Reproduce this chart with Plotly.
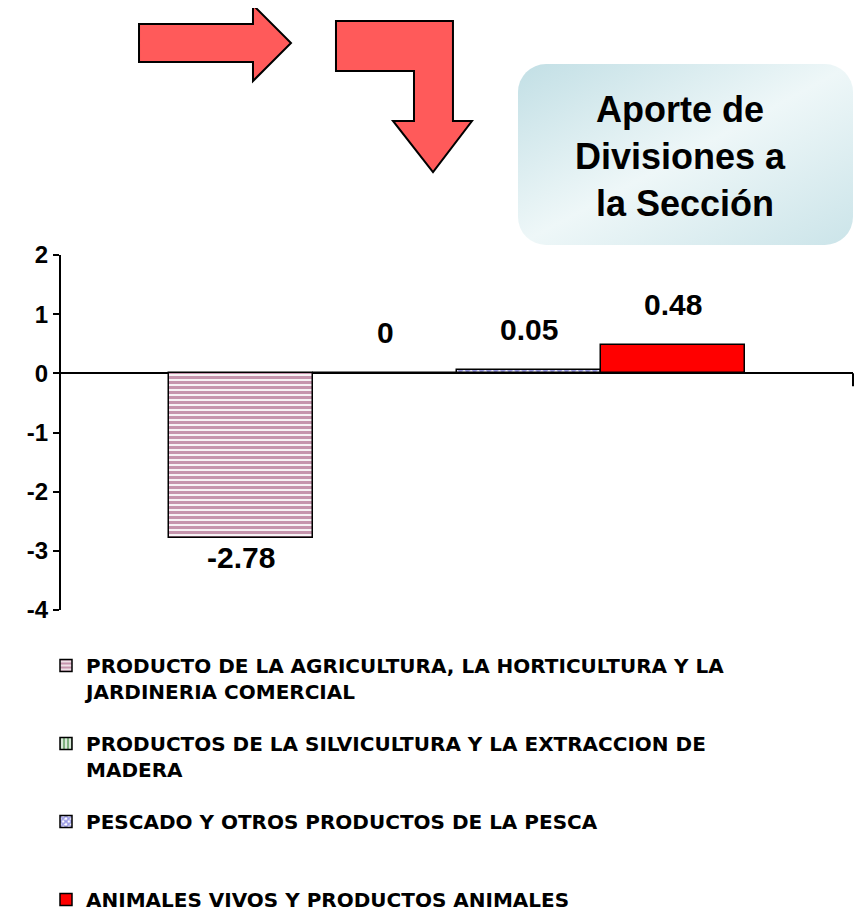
import base64
import plotly.graph_objects as go

# Datos
divisiones = [
    "PRODUCTO DE LA AGRICULTURA, LA HORTICULTURA Y LA JARDINERIA COMERCIAL",
    "PRODUCTOS DE LA SILVICULTURA Y LA EXTRACCION DE MADERA",
    "PESCADO Y OTROS PRODUCTOS DE LA PESCA",
    "ANIMALES VIVOS Y PRODUCTOS ANIMALES",
]
etiquetas_leyenda = [
    "PRODUCTO DE LA AGRICULTURA, LA HORTICULTURA Y LA<br>JARDINERIA COMERCIAL",
    "PRODUCTOS DE LA SILVICULTURA Y LA EXTRACCION DE<br>MADERA",
    "PESCADO Y OTROS PRODUCTOS DE LA PESCA<br> ",
    "ANIMALES VIVOS Y PRODUCTOS ANIMALES",
]
aportes = [-2.78, 0, 0.05, 0.48]
textos = ["-2.78", "0", "0.05", "0.48"]
ticks_y = [-4, -3, -2, -1, 0, 1, 2]
ticks_texto = ["-4", "-3", "-2", "-1", "0", "1", "2"]

colores_fg = ["#8e2a5c", "#006600", "#3333cc", "#ff0000"]
patrones = ["-", "|", "x", ""]

# la página deja 8px de margen en el body
OFF = 8
W, H = 863 - OFF, 918 - OFF
PL, PR, PT, PB = 61, 853, 255, 610   # área de trazado en pixeles de la página


def px(x, y):
    # pixel de la página -> coordenadas paper
    return (x - PL) / (PR - PL), (PB - y) / (PB - PT)


def path(puntos):
    pts = [px(x, y) for x, y in puntos]
    return "M" + " L".join(f"{a:.4f},{b:.4f}" for a, b in pts) + " Z"


fuente = "Liberation Sans, Arial"

fig = go.Figure()

for i, nombre in enumerate(divisiones):
    fig.add_trace(go.Bar(
        x=[nombre],
        y=[aportes[i]],
        name=etiquetas_leyenda[i],
        legendgroup=str(i),
        marker=dict(
            color="white" if patrones[i] else colores_fg[i],
            line=dict(color="black", width=1.5),
            pattern=dict(shape=patrones[i], fgcolor=colores_fg[i], bgcolor="white",
                         size=5, solidity=0.65),
        ),
    ))
    v = aportes[i]
    fig.add_annotation(
        x=nombre, y=v,
        text="<b>" + textos[i] + "</b>", showarrow=False,
        yanchor="top" if v < 0 else "bottom",
        yshift=-1 if v < 0 else 22,
        font=dict(family=fuente, size=30, color="black"),
    )

# flechas decorativas
flecha1 = [(139, 24), (253, 24), (253, 5), (291, 43), (253, 81), (253, 62), (139, 62)]
flecha2 = [(336, 21), (453, 21), (453, 121), (472, 121), (433, 172), (393, 121),
           (414, 121), (414, 71), (336, 71)]
for f in (flecha1, flecha2):
    fig.add_shape(type="path", xref="paper", yref="paper", path=path(f),
                  fillcolor="#ff5a5a", line=dict(color="black", width=2), layer="above")

# cuadro del título con degradado
svg = """<svg xmlns='http://www.w3.org/2000/svg' width='335' height='181'>
<defs><linearGradient id='g' x1='0' y1='0' x2='1' y2='1'>
<stop offset='0' stop-color='#c2dfe5'/><stop offset='0.5' stop-color='#eef7f8'/>
<stop offset='1' stop-color='#cbe4e9'/></linearGradient></defs>
<rect x='0' y='0' width='335' height='181' rx='28' ry='28' fill='url(#g)'/></svg>"""
src = "data:image/svg+xml;base64," + base64.b64encode(svg.encode()).decode()
x0, y0 = px(518, 64)
x1, y1 = px(853, 245)
fig.add_layout_image(source=src, xref="paper", yref="paper", x=x0, y=y0,
                     sizex=x1 - x0, sizey=y0 - y1, sizing="stretch",
                     xanchor="left", yanchor="top", layer="below")
cx, cy = px(680, 157)
fig.add_annotation(
    xref="paper", yref="paper", x=cx, y=cy, xanchor="center", yanchor="middle",
    showarrow=False, align="center",
    text="<b>Aporte de<br>Divisiones a<br> la Sección</b>",
    font=dict(family=fuente, size=36, color="black"),
)

# marca al final del eje x
fig.add_shape(type="line", xref="paper", yref="y", x0=1, x1=1, y0=0, y1=-0.22,
              line=dict(color="black", width=2))

lx, ly = px(46, 646)
fig.update_layout(
    width=W, height=H,
    margin=dict(l=PL - OFF, r=OFF + W - PR, t=PT - OFF, b=OFF + H - PB, autoexpand=False),
    paper_bgcolor="white",
    plot_bgcolor="white",
    barmode="overlay",
    bargap=0,
    xaxis=dict(visible=False, range=[-1.251, 4.251]),
    yaxis=dict(
        range=[-4, 2], showgrid=False,
        tickvals=ticks_y, ticktext=["<b>" + t + "</b>" for t in ticks_texto],
        zeroline=True, zerolinecolor="black", zerolinewidth=2,
        showline=True, linecolor="black", linewidth=2,
        ticks="outside", ticklen=6, tickwidth=2, tickcolor="black",
        tickfont=dict(family=fuente, size=24, color="black"),
    ),
    showlegend=True,
    legend=dict(
        orientation="v", x=lx, y=ly, xanchor="left", yanchor="top",
        traceorder="grouped", tracegroupgap=23, valign="top",
        bgcolor="rgba(0,0,0,0)",
        font=dict(family="DejaVu Sans", size=20, color="black", weight="bold"),
    ),
)

fig.write_html("out.html")
